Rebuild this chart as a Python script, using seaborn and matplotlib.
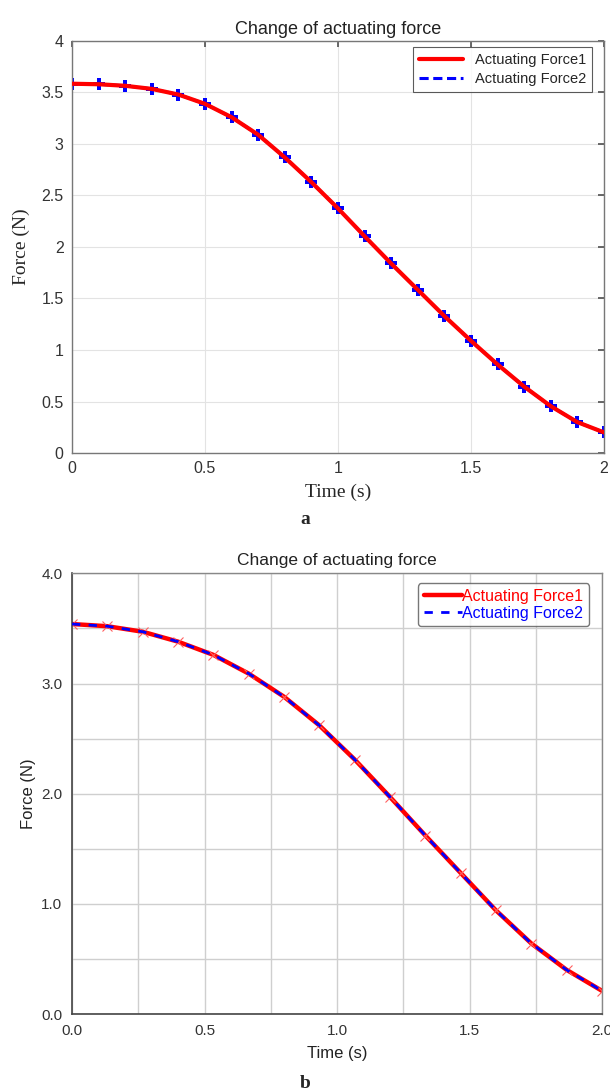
import numpy as np
import pandas as pd
import matplotlib
matplotlib.use("Agg")
import matplotlib.pyplot as plt
import seaborn as sns

# Panel a: MATLAB-style simulation, sampled every 0.1 s
time_a = [0.0, 0.1, 0.2, 0.3, 0.4, 0.5, 0.6, 0.7, 0.8, 0.9, 1.0,
          1.1, 1.2, 1.3, 1.4, 1.5, 1.6, 1.7, 1.8, 1.9, 2.0]
force1_a = [3.585, 3.58, 3.565, 3.535, 3.48, 3.39, 3.26, 3.09, 2.87, 2.63, 2.375,
            2.105, 1.84, 1.585, 1.33, 1.09, 0.86, 0.645, 0.455, 0.30, 0.20]
force2_a = [3.585, 3.58, 3.565, 3.535, 3.48, 3.39, 3.26, 3.09, 2.87, 2.63, 2.375,
            2.105, 1.84, 1.585, 1.33, 1.09, 0.86, 0.645, 0.455, 0.30, 0.20]

# Panel b: second solver, sampled every 2/15 s
time_b = [0.0, 0.1333, 0.2667, 0.4, 0.5333, 0.6667, 0.8, 0.9333,
          1.0667, 1.2, 1.3333, 1.4667, 1.6, 1.7333, 1.8667, 2.0]
force1_b = [3.54, 3.52, 3.47, 3.38, 3.26, 3.09, 2.88, 2.62,
            2.31, 1.97, 1.62, 1.28, 0.94, 0.64, 0.40, 0.21]
force2_b = [3.54, 3.52, 3.47, 3.38, 3.26, 3.09, 2.88, 2.62,
            2.31, 1.97, 1.62, 1.28, 0.94, 0.64, 0.40, 0.21]

title_text = "Change of actuating force"
series_names = ["Actuating Force1", "Actuating Force2"]
x_label = "Time (s)"
y_label = "Force (N)"

sns.set_theme(style="white")
plt.rcParams["font.family"] = ["Liberation Sans", "DejaVu Sans"]

fig = plt.figure(figsize=(6.1, 10.9), dpi=100)

# ---------------- panel a ----------------
ax1 = fig.add_axes([0.118, 0.5844, 0.872, 0.378])
df_a = pd.DataFrame({"t": time_a, "f1": force1_a, "f2": force2_a})
# blue dashed series with plus markers, underneath the red solid series
sns.lineplot(data=df_a, x="t", y="f2", ax=ax1, color="#0000ff", lw=2.2,
             linestyle=(0, (3, 1.5)), marker="P", markersize=8.5,
             markeredgewidth=0, zorder=2, label=series_names[1])
sns.lineplot(data=df_a, x="t", y="f1", ax=ax1, color="#ff0000", lw=3,
             zorder=3, label=series_names[0])
ax1.set_xlim(0, 2)
ax1.set_ylim(0, 4)
ax1.set_xticks([0, 0.5, 1, 1.5, 2])
ax1.set_xticklabels(["0", "0.5", "1", "1.5", "2"])
ax1.set_yticks([0, 0.5, 1, 1.5, 2, 2.5, 3, 3.5, 4])
ax1.set_yticklabels(["0", "0.5", "1", "1.5", "2", "2.5", "3", "3.5", "4"])
ax1.grid(True, color="#e3e3e3", lw=0.8)
ax1.tick_params(direction="in", length=4, color="#555555", labelsize=11.5,
                labelcolor="#333333", top=True, right=True, pad=6)
for s in ax1.spines.values():
    s.set_color("#777777")
    s.set_linewidth(1.0)
ax1.set_title(title_text, fontsize=13, color="#222222", pad=5)
ax1.set_xlabel(x_label, family="Liberation Serif", fontsize=14, labelpad=5)
ax1.set_ylabel(y_label, family="Liberation Serif", fontsize=14, labelpad=8)
h, l = ax1.get_legend_handles_labels()
order = [l.index(series_names[0]), l.index(series_names[1])]
leg1 = ax1.legend([h[i] for i in order], [l[i] for i in order], loc="upper right",
                  bbox_to_anchor=(0.977, 0.985),
                  fontsize=10.5, frameon=True, fancybox=False, edgecolor="#333333",
                  borderaxespad=0.0, handlelength=3.0, borderpad=0.4,
                  labelspacing=0.35)
for line in leg1.get_lines():
    line.set_marker("")
leg1.get_frame().set_linewidth(0.8)
fig.text(0.5, 1 - 519 / 1090, "a", ha="center", va="center",
         family="Liberation Serif", fontweight="bold", fontsize=14)

# ---------------- panel b ----------------
ax2 = fig.add_axes([0.118, 0.0697, 0.869, 0.4043])
df_b = pd.DataFrame({"t": time_b, "f1": force1_b, "f2": force2_b})
sns.lineplot(data=df_b, x="t", y="f1", ax=ax2, color="#ff0000", lw=3.2,
             marker="x", markersize=7, markeredgewidth=0.8,
             markeredgecolor="#ff6060", zorder=2, label=series_names[0])
sns.lineplot(data=df_b, x="t", y="f2", ax=ax2, color="#0000ff", lw=2.0,
             linestyle=(0, (3, 3)), zorder=3, label=series_names[1])
ax2.set_xlim(0, 2)
ax2.set_ylim(0, 4)
ax2.set_xticks(np.arange(0, 2.01, 0.25))
ax2.set_xticklabels(["0.0", "", "0.5", "", "1.0", "", "1.5", "", "2.0"])
ax2.set_yticks(np.arange(0, 4.01, 0.5))
ax2.set_yticklabels(["0.0", "", "1.0", "", "2.0", "", "3.0", "", "4.0"])
ax2.grid(True, color="#cfcfcf", lw=1.0)
ax2.tick_params(direction="out", length=4, color="#333333", labelsize=11,
                labelcolor="#333333", pad=3)
for side in ["left", "bottom"]:
    ax2.spines[side].set_color("#444444")
    ax2.spines[side].set_linewidth(1.2)
for side in ["top", "right"]:
    ax2.spines[side].set_color("#888888")
    ax2.spines[side].set_linewidth(1.0)
ax2.set_title(title_text, fontsize=12.5, color="#222222", pad=6)
ax2.set_xlabel(x_label, fontsize=12, labelpad=6, color="#222222")
ax2.set_ylabel(y_label, fontsize=12, labelpad=4, color="#222222")
leg2 = ax2.legend(loc="upper right", bbox_to_anchor=(0.975, 0.977),
                  fontsize=11.5, frameon=True, fancybox=True,
                  edgecolor="#555555", borderaxespad=0.0, handlelength=2.4,
                  handletextpad=0.0, borderpad=0.35, labelspacing=0.1)
for line in leg2.get_lines():
    line.set_marker("")
for txt, c in zip(leg2.get_texts(), ["#ff0000", "#0000ff"]):
    txt.set_color(c)
leg2.get_frame().set_linewidth(1.0)
fig.text(0.5, 1 - 1083 / 1090, "b", ha="center", va="center",
         family="Liberation Serif", fontweight="bold", fontsize=14)

fig.savefig("out.png", dpi=100)
